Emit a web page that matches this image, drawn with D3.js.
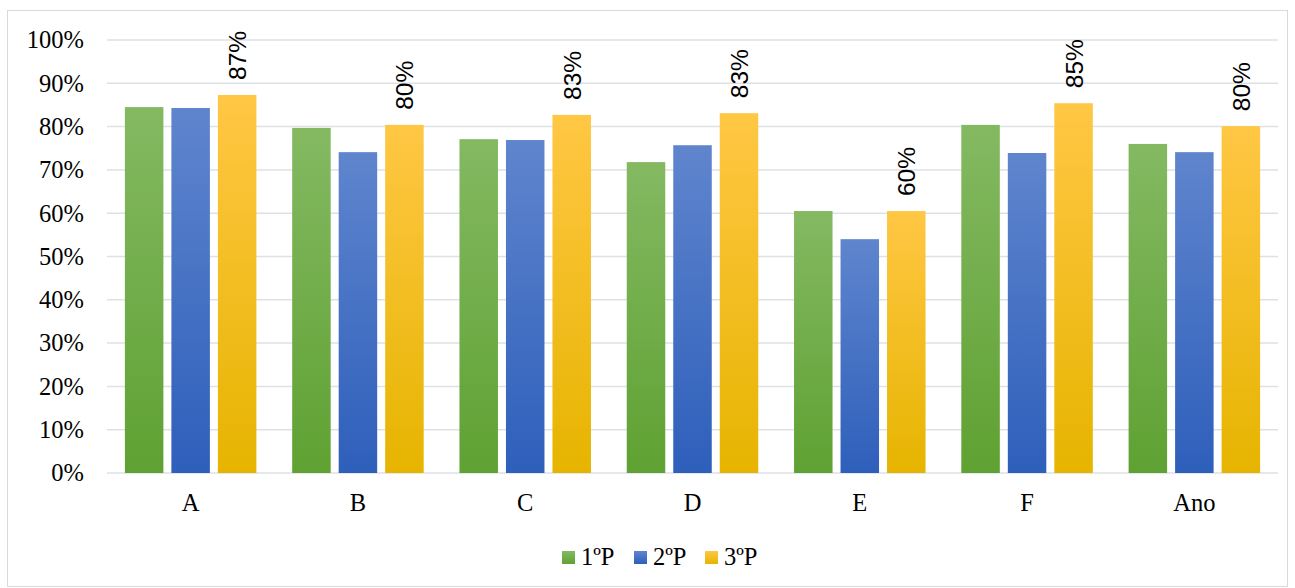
<!DOCTYPE html>
<html><head><meta charset="utf-8">
<script src="https://cdn.jsdelivr.net/npm/d3@7"></script>
<style>body{margin:0;background:#fff}svg{display:block}</style>
</head><body>
<svg id="c" width="1295" height="588"></svg>
<script>
const categories = ["A","B","C","D","E","F","Ano"];
const seriesNames = ["1ºP","2ºP","3ºP"];
const p1 = [84.5, 79.7, 77.1, 71.8, 60.5, 80.4, 76.0];
const p2 = [84.3, 74.1, 76.9, 75.7, 54.0, 73.9, 74.1];
const p3 = [87.3, 80.4, 82.7, 83.1, 60.5, 85.4, 80.1];
const labels3 = ["87%","80%","83%","83%","60%","85%","80%"];
const yTicks = [0,10,20,30,40,50,60,70,80,90,100];

(function(){
const series = [p1,p2,p3];
const grads = [["#84b962","#5fa132"],["#5f85cd","#2e5fbb"],["#ffc744","#e6b400"]];

const svg = d3.select("#c");
const defs = svg.append("defs");
grads.forEach((g,i)=>{
  const lg = defs.append("linearGradient").attr("id","g"+i).attr("x1",0).attr("y1",0).attr("x2",0).attr("y2",1);
  lg.append("stop").attr("offset","0%").attr("stop-color",g[0]);
  lg.append("stop").attr("offset","100%").attr("stop-color",g[1]);
});

svg.append("rect").attr("x",7.5).attr("y",10.5).attr("width",1280).attr("height",576)
  .attr("fill","#fff").attr("stroke","#d9d9d9").attr("stroke-width",1);

const pL=107, pR=1278, pT=40, pB=473;
const x = d3.scaleBand().domain(categories).range([pL,pR]).paddingInner(0).paddingOuter(0);
const y = d3.scaleLinear().domain([0,100]).range([pB,pT]);
const bw = 38.5, gap = 8;
const serif = "'Liberation Serif', 'Times New Roman', serif";

const grid = svg.append("g");
yTicks.forEach(t=>{
  grid.append("line").attr("x1",pL).attr("x2",pR).attr("y1",y(t)).attr("y2",y(t))
    .attr("stroke","#dde1e6").attr("stroke-width",1.5);
});

const yAxis = d3.axisLeft(y).tickValues(yTicks).tickFormat(d=>d+"%").tickSize(0).tickPadding(0);
const ya = svg.append("g").attr("transform",`translate(${pL-23},0)`).call(yAxis);
ya.select(".domain").remove();
ya.selectAll("text").attr("font-family",serif).attr("font-size",24.5).attr("fill","#000");

const xAxis = d3.axisBottom(x).tickSize(0).tickPadding(0);
const xa = svg.append("g").attr("transform",`translate(0,${pB+21})`).call(xAxis);
xa.select(".domain").remove();
xa.selectAll("text").attr("font-family",serif).attr("font-size",24.5).attr("fill","#000");

series.forEach((vals,si)=>{
  svg.append("g").selectAll("rect").data(vals).join("rect")
    .attr("x",(d,i)=>x(categories[i])+x.bandwidth()/2 - (3*bw+2*gap)/2 + si*(bw+gap))
    .attr("y",d=>y(d)).attr("width",bw).attr("height",d=>pB-y(d))
    .attr("fill",`url(#g${si})`);
});

svg.append("g").selectAll("text").data(p3).join("text")
  .attr("transform",(d,i)=>{
    const cx = x(categories[i])+x.bandwidth()/2 - (3*bw+2*gap)/2 + 2*(bw+gap) + bw/2;
    return `translate(${cx+9},${y(d)-15}) rotate(-90)`;
  })
  .attr("font-family","'Liberation Sans', Arial, sans-serif").attr("font-size",24.5).attr("fill","#000")
  .text((d,i)=>labels3[i]);

const leg = svg.append("g");
const legX = [562, 634, 705];
seriesNames.forEach((n,i)=>{
  leg.append("rect").attr("x",legX[i]).attr("y",551).attr("width",13).attr("height",13).attr("fill",`url(#g${i})`);
  leg.append("text").attr("x",legX[i]+19).attr("y",565).attr("font-family",serif)
    .attr("font-size",24.5).attr("fill","#000").text(n);
});
})();
</script>
</body></html>
